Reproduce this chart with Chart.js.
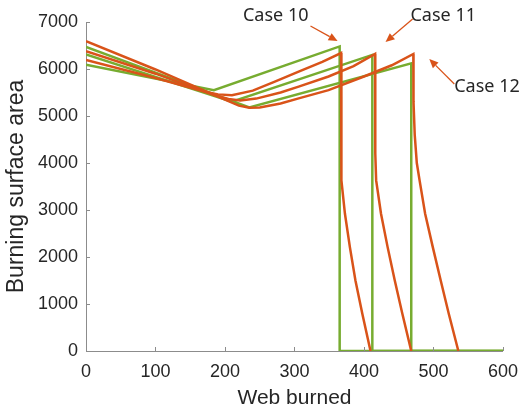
<!DOCTYPE html>
<html>
<head>
<meta charset="utf-8">
<script src="https://cdn.jsdelivr.net/npm/chart.js@4.4.1/dist/chart.umd.min.js"></script>
<style>
  body { margin: 0; background: #fff; }
  #wrap { width: 528px; height: 411px; }
</style>
</head>
<body>
<div id="wrap"><canvas id="chart" width="528" height="411"></canvas></div>
<script>
// green cases (sharp profile)
const g1X = [0, 184, 365, 365, 600];
const g1Y = [6090, 5550, 6480, 0, 0];
const g2X = [0, 210, 412, 412, 600];
const g2Y = [6310, 5306, 6300, 0, 0];
const g3X = [0, 235, 468, 468, 600];
const g3Y = [6470, 5180, 6120, 0, 0];

// orange cases (smooth profile)
const o1X = [0, 100, 170, 190, 210, 240, 270, 306, 340, 367, 367, 367.5, 368, 372.6, 379.7, 387.7, 397.6, 409.4];
const o1Y = [6190, 5810, 5520, 5460, 5440, 5540, 5720, 5945, 6150, 6340, 4800, 4200, 3630, 2920, 2210, 1500, 794, 0];
const o2X = [0, 100, 185, 205, 222, 245, 280, 306, 349, 385, 416, 416, 416.5, 417.5, 424.5, 434, 444.3, 455.2, 468];
const o2Y = [6380, 5900, 5440, 5360, 5330, 5370, 5500, 5624, 5840, 6060, 6320, 4800, 4200, 3630, 2920, 2210, 1500, 794, 0];
const o3X = [0, 100, 200, 220, 235, 250, 280, 306, 349, 400, 440, 471, 471, 471.5, 473, 476, 480, 488, 499, 510.4, 522, 535.8];
const o3Y = [6590, 5990, 5350, 5220, 5175, 5180, 5265, 5376, 5550, 5840, 6080, 6320, 5800, 5300, 4600, 4000, 3630, 2920, 2210, 1500, 794, 0];

// annotations (data units)
const caseLabels = ["Case 10", "Case 11", "Case 12"];
const labelX = [273, 514, 577];
const labelY = [7128, 7128, 5617];
const tailX = [323, 470, 530];
const tailY = [6915, 7064, 5681];
const headX = [362, 431, 494];
const headY = [6596, 6574, 6213];

const GREEN = "#77AC30";
const ORANGE = "#D95319";
const TEXT = "#262626";
const AXIS = "#8c8c8c";

function pts(xs, ys) {
  return xs.map((x, i) => ({ x: x, y: ys[i] }));
}

function series(xs, ys, color) {
  return {
    data: pts(xs, ys),
    borderColor: color,
    borderWidth: 2.5,
    pointRadius: 0,
    showLine: true,
    tension: 0,
    fill: false
  };
}

// inward tick marks, MATLAB style
const innerTicks = {
  id: "innerTicks",
  afterDraw(chart) {
    const ctx = chart.ctx;
    const x = chart.scales.x, y = chart.scales.y;
    ctx.save();
    ctx.strokeStyle = AXIS;
    ctx.lineWidth = 1;
    ctx.beginPath();
    x.ticks.forEach(t => {
      const px = Math.round(x.getPixelForValue(t.value)) + 0.5;
      ctx.moveTo(px, y.bottom);
      ctx.lineTo(px, y.bottom - 4);
    });
    y.ticks.forEach(t => {
      const py = Math.round(y.getPixelForValue(t.value)) + 0.5;
      ctx.moveTo(x.left, py);
      ctx.lineTo(x.left + 4, py);
    });
    ctx.stroke();
    ctx.restore();
  }
};

const caseNotes = {
  id: "caseNotes",
  afterDraw(chart) {
    const ctx = chart.ctx;
    const x = chart.scales.x, y = chart.scales.y;
    ctx.save();
    ctx.textAlign = "center";
    ctx.textBaseline = "middle";
    caseLabels.forEach((label, i) => {
      ctx.font = "18px 'Noto Sans'";
      ctx.fillStyle = TEXT;
      ctx.fillText(label, x.getPixelForValue(labelX[i]), y.getPixelForValue(labelY[i]));

      const x0 = x.getPixelForValue(tailX[i]), y0 = y.getPixelForValue(tailY[i]);
      const x1 = x.getPixelForValue(headX[i]), y1 = y.getPixelForValue(headY[i]);
      const a = Math.atan2(y1 - y0, x1 - x0);
      const len = 9, w = 4;
      ctx.strokeStyle = ORANGE;
      ctx.fillStyle = ORANGE;
      ctx.lineWidth = 1.3;
      ctx.beginPath();
      ctx.moveTo(x0, y0);
      ctx.lineTo(x1 - len * Math.cos(a), y1 - len * Math.sin(a));
      ctx.stroke();
      ctx.beginPath();
      ctx.moveTo(x1, y1);
      ctx.lineTo(x1 - len * Math.cos(a) + w * Math.sin(a), y1 - len * Math.sin(a) - w * Math.cos(a));
      ctx.lineTo(x1 - len * Math.cos(a) - w * Math.sin(a), y1 - len * Math.sin(a) + w * Math.cos(a));
      ctx.closePath();
      ctx.fill();
    });
    ctx.restore();
  }
};

new Chart(document.getElementById("chart"), {
  type: "scatter",
  data: {
    datasets: [
      series(o1X, o1Y, ORANGE),
      series(o2X, o2Y, ORANGE),
      series(o3X, o3Y, ORANGE),
      series(g1X, g1Y, GREEN),
      series(g2X, g2Y, GREEN),
      series(g3X, g3Y, GREEN)
    ]
  },
  options: {
    responsive: false,
    animation: false,
    devicePixelRatio: 1,
    layout: { padding: { top: 22, right: 22, left: 0, bottom: 0 } },
    plugins: { legend: { display: false }, tooltip: { enabled: false } },
    scales: {
      x: {
        type: "linear",
        min: 0,
        max: 600,
        ticks: {
          stepSize: 100,
          color: TEXT,
          padding: 10,
          maxRotation: 0,
          font: { family: "Liberation Sans", size: 18 },
          callback: v => String(v)
        },
        grid: { display: false, drawTicks: false },
        border: { display: true, color: AXIS, width: 1 },
        title: {
          display: true,
          text: "Web burned",
          color: TEXT,
          padding: 0,
          font: { family: "Liberation Sans", size: 21 }
        },
        afterFit(scale) { scale.height = 60; }
      },
      y: {
        type: "linear",
        min: 0,
        max: 7000,
        ticks: {
          stepSize: 1000,
          color: TEXT,
          padding: 8,
          font: { family: "Liberation Sans", size: 18 },
          callback: v => String(v)
        },
        grid: { display: false, drawTicks: false },
        border: { display: true, color: AXIS, width: 1 },
        title: {
          display: true,
          text: "Burning surface area",
          color: TEXT,
          padding: { top: 3, bottom: 0 },
          font: { family: "Liberation Sans", size: 23 }
        },
        afterFit(scale) { scale.width = 86; }
      }
    }
  },
  plugins: [innerTicks, caseNotes]
});
</script>
</body>
</html>
